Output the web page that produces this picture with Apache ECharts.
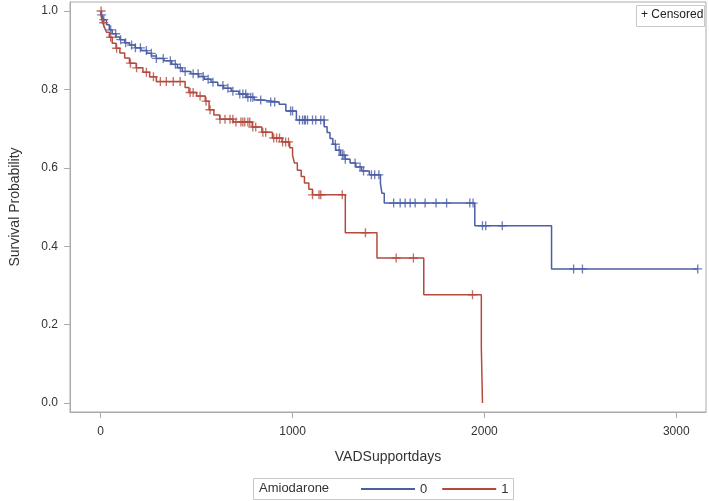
<!DOCTYPE html>
<html>
<head>
<meta charset="utf-8">
<script src="https://cdn.jsdelivr.net/npm/echarts@6/dist/echarts.min.js"></script>
<style>
html,body{margin:0;padding:0;background:#fff;}
#c{width:709px;height:501px;}
</style>
</head>
<body>
<div id="c"></div>
<script>
// Group 0 (Amiodarone = 0): event times and survival after each event
const blueTimes = [0,5,15,30,45,60,80,100,125,150,180,210,240,265,290,330,370,400,425,470,510,540,575,610,640,680,720,760,800,840,930,965,1020,1165,1180,1195,1210,1225,1250,1275,1300,1330,1360,1400,1458,1466,1478,1950,2350];
const blueSurv  = [1.0,0.99,0.978,0.965,0.952,0.942,0.934,0.927,0.919,0.913,0.906,0.899,0.892,0.885,0.879,0.873,0.864,0.855,0.846,0.840,0.833,0.826,0.818,0.810,0.803,0.795,0.788,0.780,0.773,0.768,0.762,0.745,0.722,0.705,0.690,0.675,0.660,0.645,0.632,0.622,0.612,0.602,0.592,0.582,0.560,0.535,0.510,0.452,0.342];
const blueCensor = [5,16,52,78,104,130,161,181,207,238,264,290,326,363,389,415,440,482,508,534,560,585,637,663,689,725,741,756,767,782,793,834,886,907,990,1000,1036,1052,1062,1067,1078,1104,1121,1147,1164,1223,1243,1260,1268,1275,1326,1352,1370,1411,1428,1450,1527,1561,1587,1613,1639,1691,1748,1803,1924,1941,1990,2007,2093,2465,2511,3112];

// Group 1 (Amiodarone = 1)
const redTimes = [0,3,10,20,30,45,60,80,100,125,150,185,220,255,290,440,460,500,545,565,590,620,690,790,840,895,945,985,1000,1010,1025,1045,1062,1085,1104,1275,1440,1684,1984,1990];
const redSurv  = [1.0,0.985,0.97,0.958,0.946,0.933,0.918,0.905,0.893,0.880,0.867,0.855,0.844,0.832,0.820,0.805,0.792,0.783,0.770,0.748,0.735,0.724,0.717,0.704,0.691,0.676,0.666,0.651,0.632,0.612,0.594,0.578,0.561,0.545,0.531,0.434,0.370,0.276,0.140,0.0];
const redCensor = [2,16,52,83,155,187,238,275,311,342,378,414,466,482,518,549,570,622,648,674,689,705,731,741,751,767,777,793,808,845,860,902,917,932,948,964,979,1104,1138,1147,1259,1380,1540,1630,1938];

const xTicks = [0,1000,2000,3000];
const yTicks = [0,0.2,0.4,0.6,0.8,1.0];
const groupNames = ['0','1'];

function survAt(times, surv, t){
  let v = surv[0];
  for(let i=0;i<times.length;i++){ if(times[i] <= t) v = surv[i]; }
  return v;
}
function curve(times, surv, censor){
  const d = times.map((t,i)=>[t,surv[i]]);
  const lastC = Math.max(...censor);
  if(lastC > times[times.length-1]) d.push([lastC, surv[surv.length-1]]);
  return d;
}
function marks(times, surv, censor){
  return censor.map(t=>[t, survAt(times, surv, t)]);
}

const BLUE = '#4b5ea6';
const RED = '#b44a3d';
const plusPath = 'path://M3.4,0H4.6V3.4H8V4.6H4.6V8H3.4V4.6H0V3.4H3.4Z';
const FONT = 'Liberation Sans, Arial, sans-serif';
const AX = '#ababab';

const chart = echarts.init(document.getElementById('c'), null, {renderer:'canvas'});
chart.setOption({
  animation:false,
  backgroundColor:'#fff',
  grid:{left:66, top:2, right:3, bottom:89, show:true, borderColor:AX, borderWidth:1, backgroundColor:'transparent'},
  xAxis:{
    type:'value', min:-160, max:3155,
    name:'VADSupportdays', nameLocation:'middle', nameGap:38,
    nameTextStyle:{fontFamily:FONT, fontSize:14, color:'#333'},
    splitLine:{show:false},
    axisLine:{show:true, onZero:false, lineStyle:{color:AX, width:1}},
    axisTick:{show:true, length:6, lineStyle:{color:AX}, customValues:xTicks},
    axisLabel:{fontFamily:FONT, fontSize:12, color:'#333', margin:14, customValues:xTicks, formatter:v=>String(v)}
  },
  yAxis:{
    type:'value', min:-0.023, max:1.023,
    name:'Survival Probability', nameLocation:'middle', nameGap:48,
    nameTextStyle:{fontFamily:FONT, fontSize:14, color:'#333'},
    splitLine:{show:false},
    axisLine:{show:true, onZero:false, lineStyle:{color:AX, width:1}},
    axisTick:{show:true, length:6, lineStyle:{color:AX}, customValues:yTicks},
    axisLabel:{fontFamily:FONT, fontSize:12, color:'#333', margin:12, customValues:yTicks, formatter:v=>v.toFixed(1)}
  },
  legend:{
    data:groupNames, left:361, top:482, padding:0, icon:'rect', itemWidth:54, itemHeight:2, itemGap:15,
    textStyle:{fontFamily:FONT, fontSize:13, color:'#333', lineHeight:14},
    selectedMode:false
  },
  graphic:[
    {type:'rect', left:253, top:478, shape:{width:260, height:21}, style:{fill:'#fff', stroke:'#c8c8c8', lineWidth:1}, z:-1},
    {type:'text', left:259, top:482, style:{text:'Amiodarone', font:'13px '+FONT, fill:'#333'}},
    {type:'rect', left:636, top:5, shape:{width:68, height:21}, style:{fill:'#fff', stroke:'#c8c8c8', lineWidth:1}},
    {type:'text', left:641, top:9, style:{text:'+ Censored', font:'12px '+FONT, fill:'#222'}}
  ],
  series:[
    {name:groupNames[0], type:'line', step:'end', data:curve(blueTimes,blueSurv,blueCensor), symbol:'none', lineStyle:{color:BLUE, width:1.5}, itemStyle:{color:BLUE}, z:3},
    {name:groupNames[1], type:'line', step:'end', data:curve(redTimes,redSurv,redCensor), symbol:'none', lineStyle:{color:RED, width:1.5}, itemStyle:{color:RED}, z:3},
    {name:'c0', type:'scatter', data:marks(blueTimes,blueSurv,blueCensor), symbol:plusPath, symbolSize:9, itemStyle:{color:BLUE}, z:4},
    {name:'c1', type:'scatter', data:marks(redTimes,redSurv,redCensor), symbol:plusPath, symbolSize:9, itemStyle:{color:RED}, z:4}
  ]
});
</script>
</body>
</html>
